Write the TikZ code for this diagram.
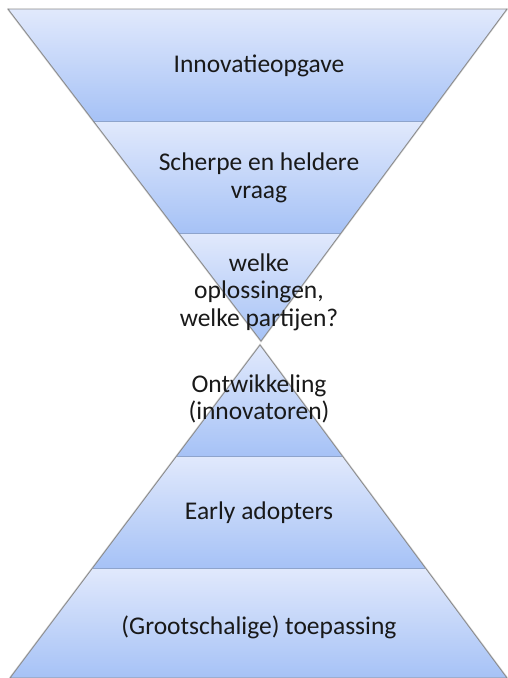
\documentclass[tikz,border=0pt]{standalone}
\usepackage{fontspec}
\setmainfont{Carlito}
\usetikzlibrary{calc}
\begin{document}
\begin{tikzpicture}[x=1pt,y=-1pt,
  band/.style={top color=bandtop,bottom color=bandbot,draw=none},
  divider/.style={draw=sepline,line width=0.8pt},
  rim/.style={draw=rimgray,line width=0.8pt,line join=miter},
  label/.style={align=center,font=\fontsize{25.5}{27.5}\selectfont,text=black!90}]
\definecolor{bandtop}{HTML}{E1E9FC}
\definecolor{bandbot}{HTML}{A6C2F6}
\definecolor{sepline}{HTML}{8EA4CC}
\definecolor{rimgray}{HTML}{8A8A8A}
\useasboundingbox (0,0) rectangle (508,678);
% funnel (inverted triangle)
\coordinate (TL) at (8,9);
\coordinate (TR) at (507,9);
\coordinate (TA) at (261,341);
\coordinate (T1L) at ($(TL)!{112/332}!(TA)$);
\coordinate (T1R) at ($(TR)!{112/332}!(TA)$);
\coordinate (T2L) at ($(TL)!{224/332}!(TA)$);
\coordinate (T2R) at ($(TR)!{224/332}!(TA)$);
% pyramid
\coordinate (BA) at (260,345);
\coordinate (BL) at (10,678);
\coordinate (BR) at (507,678);
\coordinate (B1L) at ($(BA)!{111/333}!(BL)$);
\coordinate (B1R) at ($(BA)!{111/333}!(BR)$);
\coordinate (B2L) at ($(BA)!{223/333}!(BL)$);
\coordinate (B2R) at ($(BA)!{223/333}!(BR)$);
% soft shadow along the outer rims
\draw[black!18,line width=2pt,shift={(1.5,1.5)}] (TL) -- (TA) -- (TR);
\draw[black!18,line width=2pt,shift={(1.5,1.5)}] (BL) -- (BA) -- (BR);
% bands
\shade[band] (TL) -- (TR) -- (T1R) -- (T1L) -- cycle;
\shade[band] (T1L) -- (T1R) -- (T2R) -- (T2L) -- cycle;
\shade[band] (T2L) -- (T2R) -- (TA) -- cycle;
\shade[band] (BA) -- (B1R) -- (B1L) -- cycle;
\shade[band] (B1L) -- (B1R) -- (B2R) -- (B2L) -- cycle;
\shade[band] (B2L) -- (B2R) -- (BR) -- (BL) -- cycle;
% dividers
\draw[divider] (T1L) -- (T1R);
\draw[divider] (T2L) -- (T2R);
\draw[divider] (B1L) -- (B1R);
\draw[divider] (B2L) -- (B2R);
% outlines
\draw[rim] (TL) -- (TR) -- (TA) -- cycle;
\draw[rim] (BA) -- (BR) -- (BL) -- cycle;
% labels
\node[label] (n1) at (259,66) {Innovatieopgave};
\node[label] (n2) at (259,178) {Scherpe en heldere\\vraag};
\node[label] (n3) at (259,292) {welke\\oplossingen,\\welke partijen?};
\node[label] (n4) at (259,399) {Ontwikkeling\\(innovatoren)};
\node[label] (n5) at (259,513) {Early adopters};
\node[label] (n6) at (259,627) {(Grootschalige) toepassing};
\end{tikzpicture}
\end{document}
